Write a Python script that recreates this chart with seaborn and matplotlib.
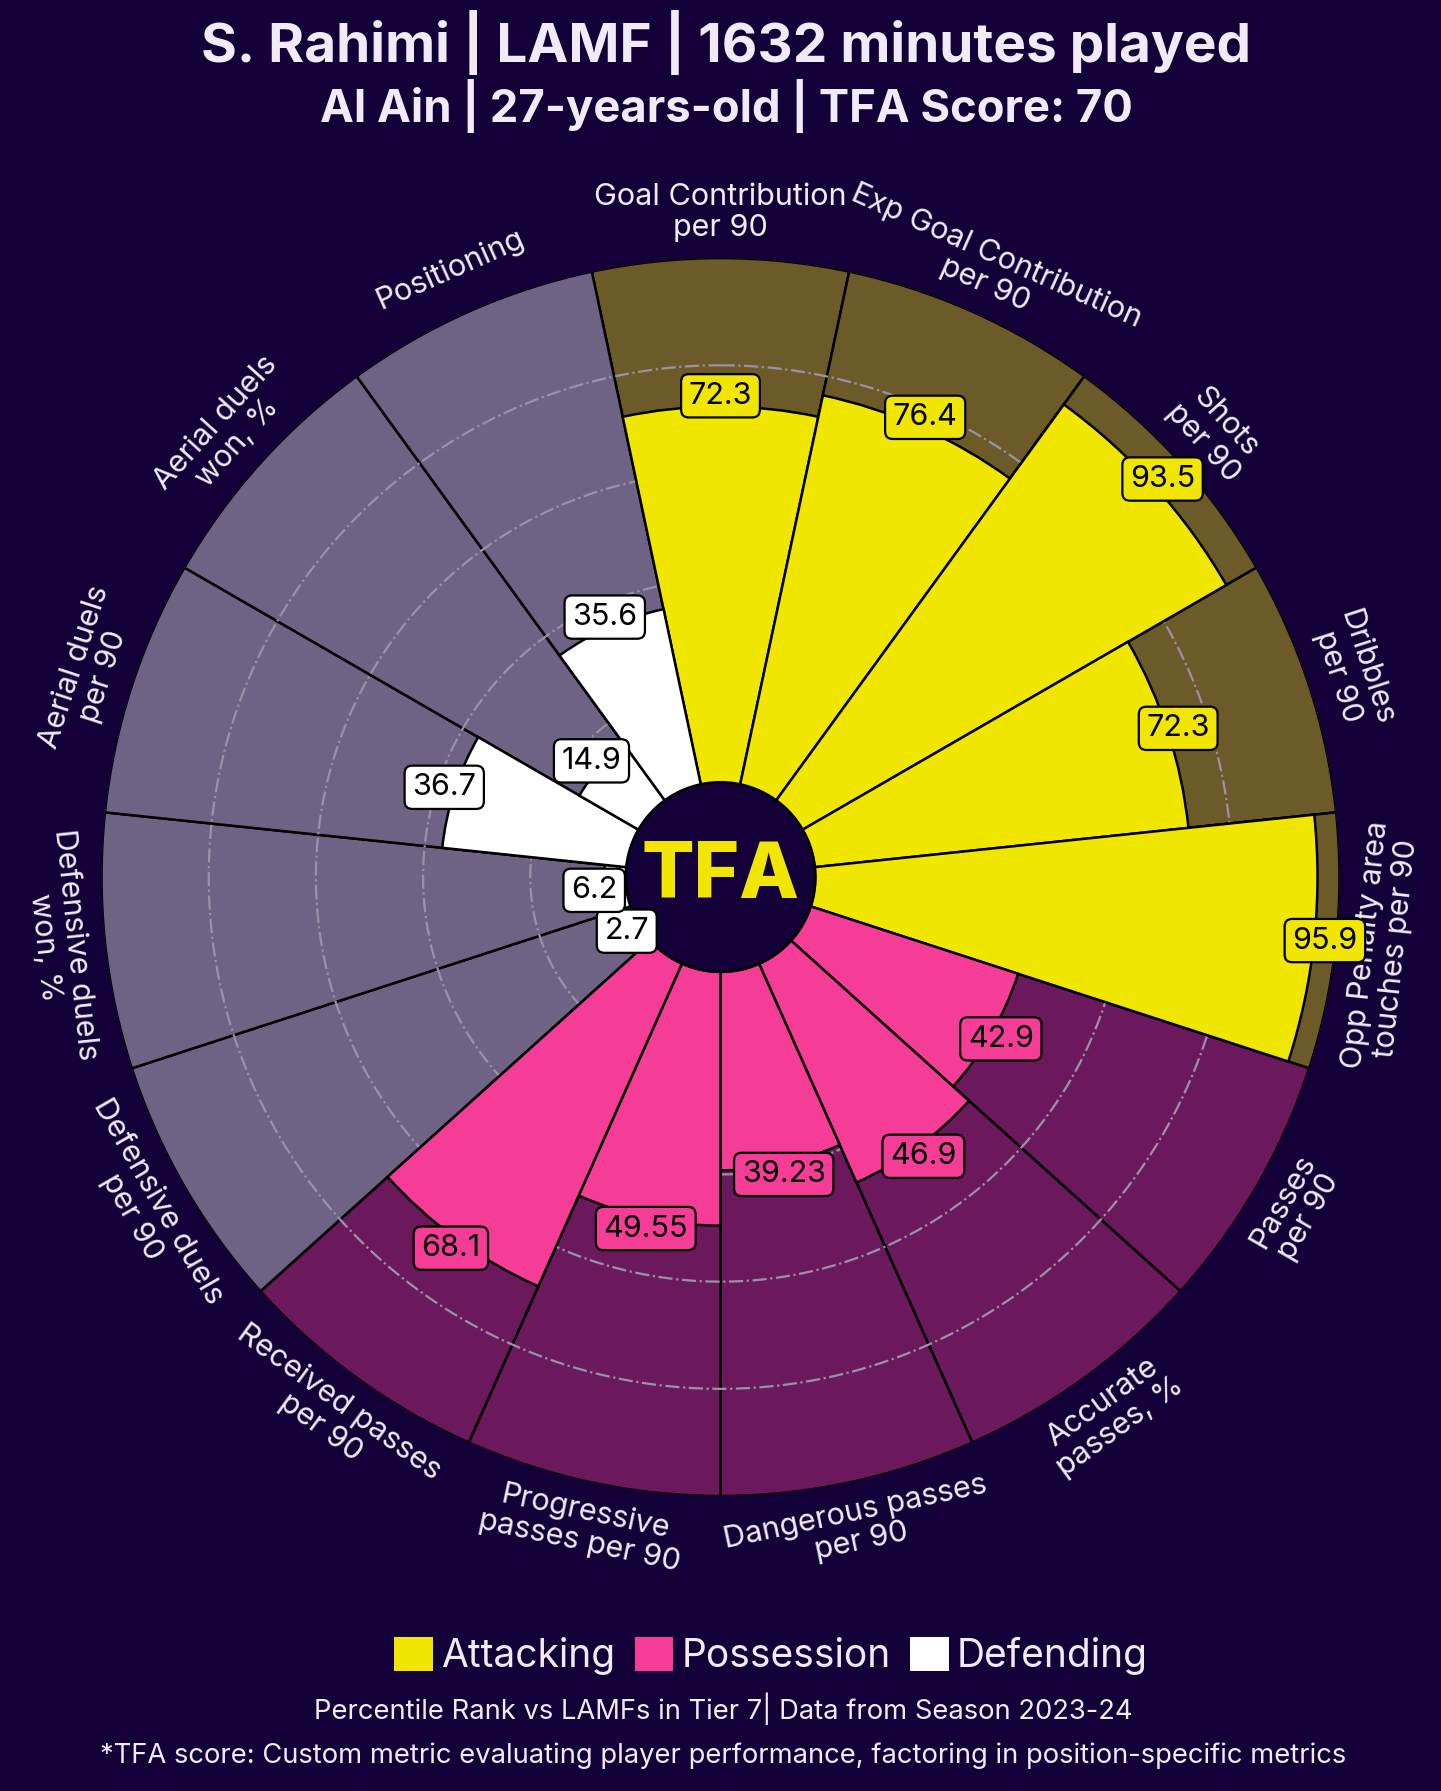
import numpy as np
import matplotlib
matplotlib.use("Agg")
import matplotlib.pyplot as plt
import seaborn as sns
from matplotlib.patches import Patch

# ---------------- data ----------------
params = [
    "Goal Contribution\nper 90", "Exp Goal Contribution\nper 90", "Shots\nper 90",
    "Dribbles\nper 90", "Opp Penalty area\ntouches per 90",
    "Passes\nper 90", "Accurate\npasses, %", "Dangerous passes\nper 90",
    "Progressive\npasses per 90", "Received passes\nper 90",
    "Defensive duels\nper 90", "Defensive duels\nwon, %", "Aerial duels\nper 90",
    "Aerial duels\nwon, %", "Positioning",
]
values = [72.3, 76.4, 93.5, 72.3, 95.9,
          42.9, 46.9, 39.23, 49.55, 68.1,
          2.7, 6.2, 36.7, 14.9, 35.6]
groups = ["Attacking"] * 5 + ["Possession"] * 5 + ["Defending"] * 5
legend_labels = ["Attacking", "Possession", "Defending"]

title = "S. Rahimi | LAMF | 1632 minutes played"
subtitle = "Al Ain | 27-years-old | TFA Score: 70"
footer1 = "Percentile Rank vs LAMFs in Tier 7| Data from Season 2023-24"
footer2 = "*TFA score: Custom metric evaluating player performance, factoring in position-specific metrics"

# ---------------- style ----------------
BG = "#140038"
TXT = "#f0ebf7"
fill_colors = {"Attacking": "#f1e600", "Possession": "#f53c96", "Defending": "#ffffff"}
back_colors = {"Attacking": "#6c5a28", "Possession": "#6c185c", "Defending": "#6e6285"}

sns.set_theme(style="white")
plt.rcParams["font.family"] = ["Inter", "DejaVu Sans"]

fig = plt.figure(figsize=(14.41, 17.91), dpi=100, facecolor=BG)
ax = fig.add_axes([0.0704, 0.1647, 0.8592, 0.6912], projection="polar")
ax.set_facecolor(BG)
ax.set_theta_zero_location("N")
ax.set_theta_direction(-1)

OFFSET = 15.5
ax.set_ylim(0, 100 + OFFSET)
n = len(params)
theta = np.deg2rad(np.arange(n) * 360.0 / n)
width = 2 * np.pi / n

# background slices
ax.bar(theta, [100] * n, width=width, bottom=OFFSET,
       color=[back_colors[g] for g in groups], edgecolor="black",
       linewidth=1.8, zorder=1)

# dash-dot reference circles
tt = np.linspace(0, 2 * np.pi, 600)
for lvl in [20, 40, 60, 80]:
    ax.plot(tt, np.full_like(tt, lvl + OFFSET), color="#9a93a8", ls="-.",
            lw=1.6, zorder=2)

# value slices
ax.bar(theta, values, width=width, bottom=OFFSET,
       color=[fill_colors[g] for g in groups], edgecolor="black",
       linewidth=1.8, zorder=3)

# center circle
R_IN = 17.7
ax.fill_between(tt, 0, R_IN, color=BG, zorder=4)
ax.plot(tt, np.full_like(tt, R_IN), color="black", lw=1.8, zorder=4)
ax.text(0.5, 0.5, "TFA", transform=ax.transAxes, ha="center", va="center",
        fontsize=56, fontweight="heavy", color="#f1e600", zorder=5)

# parameter labels
for i, p in enumerate(params):
    phi = 90 - i * 360.0 / n
    rot = phi - 90 if np.sin(np.deg2rad(phi)) > 0 else phi + 90
    ax.text(theta[i], 124, p, rotation=rot, rotation_mode="anchor",
            ha="center", va="center", fontsize=22, color=TXT,
            linespacing=1.1, zorder=6)

# value labels
for i, v in enumerate(values):
    col = fill_colors[groups[i]]
    ax.text(theta[i], v + OFFSET + 2, str(v), ha="center", va="center",
            fontsize=22, color="black", zorder=7,
            bbox=dict(boxstyle="round,pad=0.25", fc=col, ec="black", lw=1.6))

ax.grid(False)
ax.set_xticks([])
ax.set_yticks([])
ax.spines["polar"].set_visible(False)

# titles
fig.text(0.504, 0.976, title, ha="center", va="center", fontsize=39.5,
         fontweight="bold", color=TXT)
fig.text(0.504, 0.941, subtitle, ha="center", va="center", fontsize=32.7,
         fontweight="bold", color=TXT)

# legend
handles = [Patch(facecolor=fill_colors[g], edgecolor="none", label=g)
           for g in legend_labels]
leg = fig.legend(handles=handles, loc="center", bbox_to_anchor=(0.535, 0.0754),
                 ncol=3, frameon=False, fontsize=28, handlelength=1.0,
                 handleheight=1.0, handletextpad=0.2, columnspacing=0.5,
                 labelcolor=TXT)

fig.text(0.502, 0.0458, footer1, ha="center", va="center", fontsize=19.7, color=TXT)
fig.text(0.502, 0.0195, footer2, ha="center", va="center", fontsize=19.7, color=TXT)

fig.savefig("out.png", dpi=100, facecolor=BG)
